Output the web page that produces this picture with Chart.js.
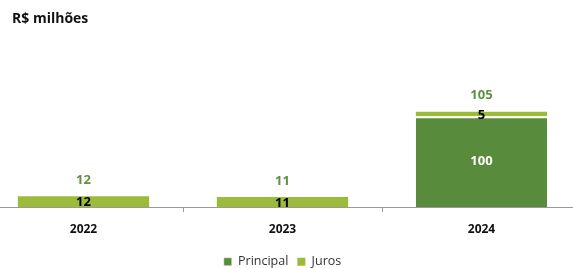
<!DOCTYPE html>
<html>
<head>
    <title>R$ milhões</title>
    <script src="https://cdn.jsdelivr.net/npm/chart.js"></script>
    <style>
        body { margin: 0; background: #fff; }
        #wrap { position: relative; width: 573px; height: 268px; overflow: hidden; }
        #title { position: absolute; left: 12px; top: 8px; font: bold 14px "Open Sans", sans-serif; color: #111; }
        #debtChart { position: absolute; left: -16px; top: 0; }
    </style>
</head>
<body>
<div id="wrap">
    <canvas id="debtChart" width="597" height="268"></canvas>
    <div id="title">R$ milhões</div>
</div>
<script>
    // chart values
    var years = ['2022', '2023', '2024'];
    var principal = [0, 0, 100];
    var juros = [12, 11, 5];
    var totals = [12, 11, 105];

    var darkGreen = '#588b3c';
    var lightGreen = '#9dbb3a';
    var font = '"Open Sans", sans-serif';

    // draws the numbers on and above the bars
    var labelPlugin = {
        id: 'labels',
        afterDatasetsDraw: function(chart) {
            var c = chart.ctx;
            c.save();
            c.textAlign = 'center';
            c.textBaseline = 'middle';
            c.font = 'bold 13px ' + font;
            var pMeta = chart.getDatasetMeta(0);
            var jMeta = chart.getDatasetMeta(1);
            for (var i = 0; i < years.length; i++) {
                if (principal[i] > 0) {
                    var p = pMeta.data[i];
                    c.fillStyle = '#ffffff';
                    c.fillText(principal[i], p.x, (p.y + p.base) / 2);
                }
                var j = jMeta.data[i];
                c.fillStyle = '#000000';
                c.fillText(juros[i], j.x, (j.y + j.base) / 2 + 1);
                c.fillStyle = '#5e9140';
                c.fillText(totals[i], j.x, chart.scales.y.getPixelForValue(totals[i]) - 16);
            }
            c.restore();
        }
    };

    var ctx = document.getElementById('debtChart').getContext('2d');
    var chart = new Chart(ctx, {
        type: 'bar',
        data: {
            labels: years,
            datasets: [{
                label: 'Principal',
                data: principal,
                backgroundColor: darkGreen,
                borderColor: '#ffffff',
                borderWidth: {top: 2, left: 0, right: 0, bottom: 0},
                borderSkipped: false,
                barPercentage: 0.66,
                categoryPercentage: 1
            }, {
                label: 'Juros',
                data: juros,
                backgroundColor: lightGreen,
                borderWidth: 0,
                barPercentage: 0.66,
                categoryPercentage: 1
            }]
        },
        options: {
            responsive: false,
            animation: false,
            devicePixelRatio: 1,
            layout: { padding: { top: 98, left: 0, right: 0, bottom: -10 } },
            plugins: {
                legend: {
                    position: 'bottom',
                    labels: {
                        boxWidth: 8, boxHeight: 8, padding: 9,
                        color: '#333', font: { family: font, size: 12.5 }
                    }
                },
                tooltip: { enabled: false }
            },
            scales: {
                x: {
                    stacked: true,
                    border: { color: '#999999', width: 1 },
                    grid: { offset: true, drawOnChartArea: false, tickLength: 5, color: '#999999' },
                    ticks: { color: '#111', font: { family: font, size: 12, weight: 'bold' }, padding: 10 }
                },
                y: {
                    stacked: true,
                    display: false,
                    min: 0,
                    max: 120
                }
            }
        },
        plugins: [labelPlugin]
    });
</script>
</body>
</html>
